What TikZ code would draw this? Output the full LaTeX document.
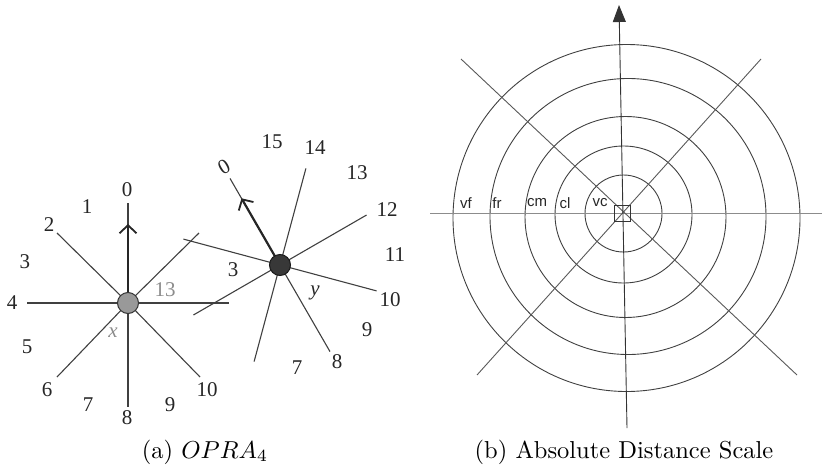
\documentclass[tikz,border=0pt]{standalone}
\usepackage{fontspec}
\newfontfamily\timesf{Liberation Serif}
\newfontfamily\arialf{Liberation Sans}
\usetikzlibrary{arrows.meta}
\begin{document}
\begin{tikzpicture}[x=1pt,y=-1pt,
  ray/.style={draw=black!75, line width=1.1pt},
  orient/.style={draw=black!85, line width=2.2pt,
    -{Straight Barb[length=8pt,width=17pt,line width=1.8pt]}},
  num/.style={font=\timesf\fontsize{21}{21}\selectfont, text=black!85, inner sep=0pt},
  graynum/.style={num, text=black!45},
  xnode/.style={circle, minimum size=21pt, inner sep=0pt, fill=black!40, draw=black!80, line width=1pt},
  ynode/.style={circle, minimum size=21pt, inner sep=0pt, fill=black!78, draw=black!90, line width=1pt},
  grid/.style={draw=black!65, line width=0.9pt},
  ring/.style={draw=black!75, line width=0.9pt},
  dlabel/.style={font=\arialf\fontsize{15}{15}\selectfont, text=black!85, inner sep=0pt},
  caption/.style={inner sep=0pt}
]
\useasboundingbox (0,0) rectangle (822,471);

% ---------------- (a) OPRA_4 ----------------
\coordinate (xc) at (128,303);
\coordinate (xN) at (128,203);
\coordinate (xa) at (128,224);
\coordinate (xS) at (128,407);
\coordinate (xW) at (27,303);
\coordinate (xE) at (229,303);
\coordinate (xNW) at (57,233);
\coordinate (xSW) at (57,377);
\coordinate (xSE) at (200,377);
\coordinate (xNE) at (199,233);
\foreach \p in {xN,xS,xW,xE,xNW,xSW,xSE,xNE} \draw[ray] (xc) -- (\p);
\draw[orient] (xc) -- (xa);
\node[xnode] (x) at (xc) {};

\coordinate (yc) at (280,265);
\coordinate (y0) at (230,178.4);
\coordinate (ya) at (241.5,198.3);
\coordinate (y75) at (305.9,168.4);
\coordinate (y30) at (366.6,215);
\coordinate (ym15) at (376.6,290.9);
\coordinate (ym60) at (330,351.6);
\coordinate (ym105) at (254.1,361.6);
\coordinate (ym150) at (193.4,315);
\coordinate (y165) at (183.4,239.1);
\foreach \p in {y0,y75,y30,ym15,ym60,ym105,ym150,y165} \draw[ray] (yc) -- (\p);
\draw[orient] (yc) -- (ya);
\node[ynode] (y) at (yc) {};

% labels around x
\node[num] (lx0) at (127,190) {0};
\node[num] (lx1) at (87,207) {1};
\node[num] (lx2) at (49,225) {2};
\node[num] (lx3) at (25,262) {3};
\node[num] (lx4) at (12,303) {4};
\node[num] (lx5) at (27,347) {5};
\node[num] (lx6) at (47,390) {6};
\node[num] (lx7) at (88,405) {7};
\node[num] (lx8) at (127,418) {8};
\node[num] (lx9) at (170,405) {9};
\node[num] (lx10) at (207,390) {10};
\node[graynum] (lx13) at (165,290) {13};
\node[graynum, font=\timesf\itshape\fontsize{21}{21}\selectfont] (lxx) at (113,333) {x};

% labels around y
\node[num, rotate=30] (ly0) at (224,167) {0};
\node[num] (ly15) at (272,142) {15};
\node[num] (ly14) at (315,148) {14};
\node[num] (ly13) at (357,173) {13};
\node[num] (ly12) at (387,210) {12};
\node[num] (ly11) at (395,255) {11};
\node[num] (ly10) at (390,300) {10};
\node[num] (ly9) at (367,330) {9};
\node[num] (ly8) at (337,362) {8};
\node[num] (ly7) at (297,368) {7};
\node[num] (ly3) at (233,270) {3};
\node[num, font=\timesf\itshape\fontsize{21}{21}\selectfont] (lyy) at (315,293) {y};

\node[caption] (capa) at (205,452) {\scalebox{2.45}{(a) $OPRA_4$}};

% ---------------- (b) Absolute Distance Scale ----------------
\coordinate (c1) at (623.5,213.5);
\coordinate (c2) at (623.5,214.5);
\coordinate (c3) at (625.5,217);
\coordinate (c4) at (628,216.5);
\coordinate (c5) at (626.5,218);
\draw[ring] (c1) circle[radius=38.5];
\draw[ring] (c2) circle[radius=68.5];
\draw[ring] (c3) circle[radius=100.5];
\draw[ring] (c4) circle[radius=138];
\draw[ring] (c5) circle[radius=173.5];

\coordinate (hW) at (430,213);
\coordinate (hE) at (822,213);
\coordinate (vS) at (627,428);
\coordinate (vN) at (619,5);
\coordinate (dNW) at (461,59);
\coordinate (dSE) at (797,375);
\coordinate (dNE) at (761,59);
\coordinate (dSW) at (477,375);
\draw[draw=black!45, line width=1pt] (hW) -- (hE);
\draw[grid] (dNW) -- (dSE);
\draw[grid] (dSW) -- (dNE);
\draw[draw=black!80, line width=0.9pt, -{Triangle[length=17pt,width=13pt]}] (vS) -- (vN);
\node[draw=black!80, line width=0.9pt, minimum size=16pt, inner sep=0pt] (sq) at (622.5,213.5) {};

\node[dlabel] (vf) at (466,203) {vf};
\node[dlabel] (fr) at (497,203) {fr};
\node[dlabel] (cm) at (537,203) {cm};
\node[dlabel] (cl) at (565,203) {cl};
\node[dlabel] (vc) at (600,203) {vc};

\node[caption] (capb) at (624,452) {\scalebox{2.45}{(b) Absolute Distance Scale}};
\end{tikzpicture}
\end{document}
